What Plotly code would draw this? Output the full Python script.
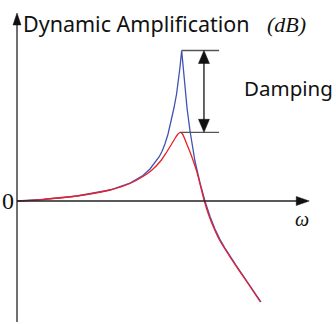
import plotly.graph_objects as go

# frequency ratio (omega / omega_n) and amplitude in dB
omega_blue = [0.000, 0.159, 0.366, 0.567, 0.689, 0.768, 0.811, 0.841, 0.866, 0.884,
              0.902, 0.921, 0.939, 0.957, 0.973, 0.985, 0.994, 1.004, 1.012, 1.021,
              1.037, 1.055, 1.085, 1.116, 1.146, 1.177, 1.207, 1.238, 1.268, 1.335,
              1.402, 1.488]
db_blue = [0.0, 0.3, 1.0, 2.2, 3.6, 5.1, 6.4, 7.6, 8.8, 9.9,
           11.4, 13.4, 15.8, 18.6, 21.4, 24.2, 26.8, 30.1, 27.0, 23.4,
           18.5, 14.0, 8.0, 3.6, 0.0, -3.1, -5.6, -7.7, -9.4, -12.8,
           -16.0, -20.2]

omega_red = [0.000, 0.159, 0.366, 0.567, 0.689, 0.768, 0.823, 0.878, 0.909, 0.943,
             0.963, 0.979, 0.994, 1.009, 1.035, 1.055, 1.075, 1.098, 1.116, 1.142,
             1.172, 1.203, 1.233, 1.264, 1.331, 1.398, 1.484]
db_red = [0.0, 0.34, 1.0, 2.2, 3.5, 4.9, 6.2, 8.1, 9.6, 11.4,
          12.5, 13.3, 13.74, 13.4, 11.4, 9.8, 8.0, 5.7, 3.4, 0.0,
          -3.1, -5.6, -7.7, -9.4, -12.8, -16.0, -20.2]

title_text = "Dynamic Amplification"
unit_text = "(dB)"
damping_text = "Damping"
zero_label = "0"
x_label = "ω"

W, H = 336, 324
X_RANGE = [-0.1037, 1.9451]
Y_RANGE = [-24.6, 40.2]
DX = (X_RANGE[1] - X_RANGE[0]) / W   # data units per pixel
DY = (Y_RANGE[1] - Y_RANGE[0]) / H

Y_AXIS_TOP = 37.6
Y_AXIS_BOTTOM = -24.2
X_AXIS_END = 1.782

peak_hi = max(db_blue)
peak_lo = max(db_red)
peak_w_hi = omega_blue[db_blue.index(peak_hi)]
peak_w_lo = omega_red[db_red.index(peak_lo)]
bracket_end = 1.232
arrow_x = 1.140


def head(x_tip, y_tip, direction, length, width):
    """Filled triangular arrowhead; length/width in pixels."""
    if direction == "up":
        pts = [(x_tip, y_tip), (x_tip - width / 2 * DX, y_tip - length * DY),
               (x_tip + width / 2 * DX, y_tip - length * DY)]
    elif direction == "down":
        pts = [(x_tip, y_tip), (x_tip - width / 2 * DX, y_tip + length * DY),
               (x_tip + width / 2 * DX, y_tip + length * DY)]
    else:  # right
        pts = [(x_tip, y_tip), (x_tip - length * DX, y_tip + width / 2 * DY),
               (x_tip - length * DX, y_tip - width / 2 * DY)]
    path = "M {} {} L {} {} L {} {} Z".format(*[v for p in pts for v in p])
    return dict(type="path", path=path, fillcolor="#111111",
                line=dict(color="#111111", width=0.5))


fig = go.Figure()
fig.add_trace(go.Scatter(x=omega_blue, y=db_blue, mode="lines",
                         line=dict(color="#4152b4", width=1.3), hoverinfo="skip"))
fig.add_trace(go.Scatter(x=omega_red, y=db_red, mode="lines",
                         line=dict(color="#e8202a", width=1.3, shape="spline", smoothing=0.6),
                         hoverinfo="skip"))

axis_col = "#222222"
shapes = [
    # axes
    dict(type="line", x0=0, x1=0, y0=Y_AXIS_BOTTOM, y1=Y_AXIS_TOP - 10 * DY,
         line=dict(color=axis_col, width=1.3)),
    dict(type="line", x0=0, x1=X_AXIS_END - 11 * DX, y0=0, y1=0,
         line=dict(color=axis_col, width=1.3)),
    head(0, Y_AXIS_TOP, "up", 12, 8),
    head(X_AXIS_END, 0, "right", 13, 9),
    # damping bracket
    dict(type="line", x0=peak_w_hi, x1=bracket_end, y0=peak_hi, y1=peak_hi,
         line=dict(color="#555555", width=1.3)),
    dict(type="line", x0=peak_w_lo, x1=bracket_end, y0=peak_lo, y1=peak_lo,
         line=dict(color="#555555", width=1.3)),
    dict(type="line", x0=arrow_x, x1=arrow_x, y0=peak_lo + 10 * DY, y1=peak_hi - 10 * DY,
         line=dict(color="#111111", width=1.3)),
    head(arrow_x, peak_hi, "up", 13, 11),
    head(arrow_x, peak_lo, "down", 13, 11),
]

annotations = [
    dict(x=0.0226, y=35.5, xref="x", yref="y", text=title_text, showarrow=False,
         xanchor="left", yanchor="middle",
         font=dict(family="Noto Sans", size=21.5, color="#111111")),
    dict(x=1.512, y=35.4, xref="x", yref="y", text="<i>" + unit_text + "</i>", showarrow=False,
         xanchor="left", yanchor="middle",
         font=dict(family="Liberation Serif", size=22, color="#111111")),
    dict(x=1.370, y=22.6, xref="x", yref="y", text=damping_text, showarrow=False,
         xanchor="left", yanchor="middle",
         font=dict(family="Noto Sans", size=20.5, color="#111111")),
    dict(x=-0.053, y=0.0, xref="x", yref="y", text=zero_label, showarrow=False,
         xanchor="center", yanchor="middle",
         font=dict(family="Liberation Serif", size=24, color="#111111")),
    dict(x=1.738, y=-3.6, xref="x", yref="y", text="<i>" + x_label + "</i>", showarrow=False,
         xanchor="center", yanchor="middle",
         font=dict(family="Liberation Serif", size=20, color="#111111")),
]

fig.update_layout(
    width=W, height=H, margin=dict(l=0, r=0, t=0, b=0),
    paper_bgcolor="white", plot_bgcolor="white", showlegend=False,
    xaxis=dict(range=X_RANGE, visible=False, fixedrange=True),
    yaxis=dict(range=Y_RANGE, visible=False, fixedrange=True),
    shapes=shapes, annotations=annotations,
)

fig.write_html("out.html")
